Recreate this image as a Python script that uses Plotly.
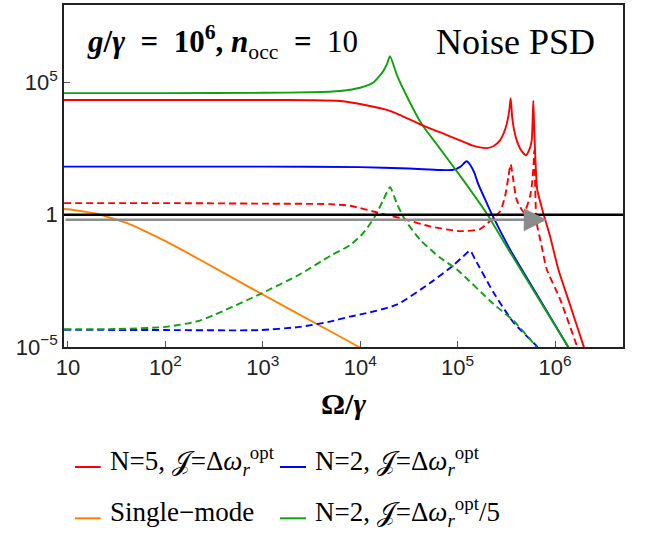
import plotly.graph_objects as go

# ---- data (log10 of Omega/gamma, log10 of PSD) ----
red_solid_lx = [0.959, 2.0, 3.0, 3.5, 3.793, 4.05, 4.306, 4.648, 4.819, 5.025, 5.15, 5.299, 5.37, 5.435,
                5.49, 5.52, 5.535, 5.545, 5.56, 5.58, 5.607, 5.65, 5.702, 5.74, 5.761, 5.768, 5.777, 5.786,
                5.795, 5.805, 5.818, 5.88, 5.949, 6.034, 6.15, 6.291, 6.33]
red_solid_ly = [4.34, 4.34, 4.34, 4.33, 4.30, 4.15, 3.93, 3.37, 3.12, 2.81, 2.62, 2.52, 2.6, 2.81,
                3.25, 3.7, 4.1, 4.41, 3.7, 3.2, 2.81, 2.45, 2.25, 2.5, 2.81, 3.3, 4.31, 3.3,
                2.43, 1.6, 0.94, 0.06, -0.81, -2.06, -3.36, -4.94, -5.4]

red_dash_lx = [0.959, 2.0, 3.0, 3.69, 3.895, 4.203, 4.443, 4.717, 5.025, 5.23, 5.367, 5.435, 5.487, 5.521,
               5.545, 5.572, 5.607, 5.682, 5.743, 5.765, 5.78, 5.787, 5.795, 5.803, 5.812, 5.863, 5.915,
               6.051, 6.223, 6.26]
red_dash_ly = [0.44, 0.44, 0.42, 0.40, 0.34, 0.06, -0.16, -0.44, -0.62, -0.54, -0.12, 0.12, 0.69, 1.43,
               1.91, 1.31, 0.56, 0.09, 0.69, 1.2, 1.9, 2.43, 1.3, 0.2, -0.31, -1.19, -2.06,
               -3.18, -4.94, -5.3]

green_solid_lx = [0.959, 2.0, 3.0, 3.5, 3.793, 4.0, 4.135, 4.237, 4.275, 4.306, 4.374, 4.477, 4.631,
                  4.819, 5.058, 5.302, 5.521, 6.126, 6.17]
green_solid_ly = [4.60, 4.60, 4.61, 4.63, 4.68, 4.80, 5.00, 5.43, 5.70, 5.99, 5.31, 4.49, 3.43,
                  2.50, 1.31, 0.03, -1.31, -4.94, -5.2]

green_dash_lx = [0.959, 1.5, 2.003, 2.355, 2.971, 3.382, 3.69, 3.895, 4.032, 4.152, 4.237, 4.306, 4.374,
                 4.46, 4.614, 4.819, 4.99, 5.367, 5.572, 5.795, 5.83]
green_dash_ly = [-4.33, -4.32, -4.24, -4.0, -3.0, -2.25, -1.56, -1.15, -0.69, -0.06, 0.56, 1.04, 0.44,
                 -0.19, -0.94, -1.62, -2.06, -3.37, -4.0, -4.94, -5.15]

blue_solid_lx = [0.959, 3.0, 4.0, 4.5, 4.819, 4.956, 5.03, 5.093, 5.13, 5.17, 5.21, 5.28, 5.35, 5.538,
                 5.8, 6.126, 6.17]
blue_solid_ly = [1.82, 1.82, 1.80, 1.75, 1.69, 1.70, 1.82, 2.02, 1.88, 1.6, 1.18, 0.6, 0.03, -1.31,
                 -2.93, -4.94, -5.2]

blue_dash_lx = [0.959, 2.0, 2.97, 3.38, 3.69, 3.895, 4.03, 4.375, 4.717, 4.96, 5.05, 5.127, 5.18, 5.367,
                5.572, 5.805, 5.84]
blue_dash_ly = [-4.35, -4.36, -4.36, -4.24, -4.04, -3.85, -3.75, -3.4, -2.58, -1.9, -1.6, -1.36, -1.69,
                -2.93, -4.06, -4.94, -5.1]

orange_lx = [0.959, 1.0, 1.2, 1.28, 1.465, 1.6, 1.8, 2.0, 2.355, 2.971, 3.55, 3.89, 4.0]
orange_ly = [0.22, 0.21, 0.10, 0.05, -0.15, -0.31, -0.64, -1.0, -1.7, -2.96, -4.12, -4.8, -5.03]

sql_level = 1.0           # black reference line
arrow_level_log = -0.19   # gray arrow (log10)
arrow_from_log = 0.959
arrow_to_log = 5.915

x_tickvals = [1e1, 1e2, 1e3, 1e4, 1e5, 1e6]
x_ticktext = ["10", "10<sup>2</sup>", "10<sup>3</sup>", "10<sup>4</sup>", "10<sup>5</sup>", "10<sup>6</sup>"]
y_tickvals = [1e-5, 1, 1e5]
y_ticktext = ["10<sup>−5</sup>", "1", "10<sup>5</sup>"]

legend_labels = ["N=5, 𝒥=Δ<i>ω</i><sub><i>r</i></sub><sup>opt</sup>",
                 "N=2, 𝒥=Δ<i>ω</i><sub><i>r</i></sub><sup>opt</sup>",
                 "Single−mode",
                 "N=2, 𝒥=Δ<i>ω</i><sub><i>r</i></sub><sup>opt</sup>/5"]

RED = "#ff0000"
BLUE = "#0000ff"
GREEN = "#10a010"
ORANGE = "#ff8000"

SERIF = "Liberation Serif, Times New Roman, serif"
SANS = "Liberation Sans, Arial, sans-serif"


def pw(v):
    return [10 ** a for a in v]


fig = go.Figure()
LW = 1.9
DASH = "7px,4px"
SM = 0.6


def curve(lx, ly, color, dash=None):
    fig.add_trace(go.Scatter(x=pw(lx), y=pw(ly), mode="lines",
                             line=dict(color=color, width=LW, dash=dash, shape="spline", smoothing=SM),
                             showlegend=False))


curve(orange_lx, orange_ly, ORANGE)
curve(blue_dash_lx, blue_dash_ly, BLUE, DASH)
curve(green_dash_lx, green_dash_ly, GREEN, DASH)
curve(red_dash_lx, red_dash_ly, RED, DASH)
curve(blue_solid_lx, blue_solid_ly, BLUE)
curve(green_solid_lx, green_solid_ly, GREEN)
curve(red_solid_lx, red_solid_ly, RED)

shapes = [dict(type="line", xref="paper", x0=0, x1=1, yref="y", y0=sql_level, y1=sql_level,
               line=dict(color="black", width=2.5), layer="above")]

annotations = [
    dict(x=arrow_to_log, y=arrow_level_log, ax=arrow_from_log, ay=arrow_level_log,
         xref="x", yref="y", axref="x", ayref="y", text="", showarrow=True,
         arrowhead=2, arrowsize=2.0, arrowwidth=2.3, arrowcolor="#8c8c8c", standoff=0),
    dict(x=0.0376, y=0.8924, xref="paper", yref="paper", xanchor="left", yanchor="middle",
         showarrow=False,
         text="<b><i>g</i>/<i>γ</i>\u2002=\u200210<sup>6</sup>, <i>n</i></b><sub>occ</sub><b>\u2002=\u2002</b>10",
         font=dict(family=SERIF, size=31, color="black")),
    dict(x=0.9535, y=0.8924, xref="paper", yref="paper", xanchor="right", yanchor="middle",
         showarrow=False, text="Noise PSD",
         font=dict(family=SERIF, size=36, color="black")),
]

# legend (2 x 2 grid below the axes)
leg_colors = [RED, BLUE, ORANGE, GREEN]
leg_line_x = [(0.0197, 0.0657), (0.3864, 0.4329), (0.0197, 0.0657), (0.3864, 0.4329)]
leg_text_x = [0.0787, 0.4454, 0.0787, 0.4454]
leg_line_y = [-0.3509, -0.3509, -0.5009, -0.5009]
leg_text_y = [-0.3346, -0.3346, -0.4826, -0.4826]
for c, (xa, xb), tx, ly, ty, lab in zip(leg_colors, leg_line_x, leg_text_x, leg_line_y, leg_text_y, legend_labels):
    shapes.append(dict(type="line", xref="paper", yref="paper", x0=xa, x1=xb, y0=ly, y1=ly,
                       line=dict(color=c, width=2)))
    annotations.append(dict(x=tx, y=ty, xref="paper", yref="paper", xanchor="left", yanchor="middle",
                            showarrow=False, text=lab,
                            font=dict(family=SERIF, size=27, color="black")))

axis_common = dict(showgrid=False, zeroline=False, showline=True, mirror=True,
                   linecolor="#222", linewidth=1.5, ticks="inside", ticklen=6,
                   tickcolor="#555", tickwidth=1,
                   tickfont=dict(family=SANS, size=22, color="#222"))

fig.update_layout(
    width=651, height=533,
    margin=dict(l=64, r=28, t=3, b=186),
    paper_bgcolor="white", plot_bgcolor="white",
    showlegend=False,
    xaxis=dict(type="log", range=[0.959, 6.698], tickvals=x_tickvals, ticktext=x_ticktext,
               title=dict(text="<b>Ω/<i>γ</i></b>", standoff=14,
                          font=dict(family=SERIF, size=30, color="black")),
               **axis_common),
    yaxis=dict(type="log", range=[-5.0, 7.93], tickvals=y_tickvals, ticktext=y_ticktext,
               **axis_common),
    shapes=shapes,
    annotations=annotations,
)

fig.write_html("out.html", config={"displayModeBar": False},
               post_script="document.body.style.margin='0';")
